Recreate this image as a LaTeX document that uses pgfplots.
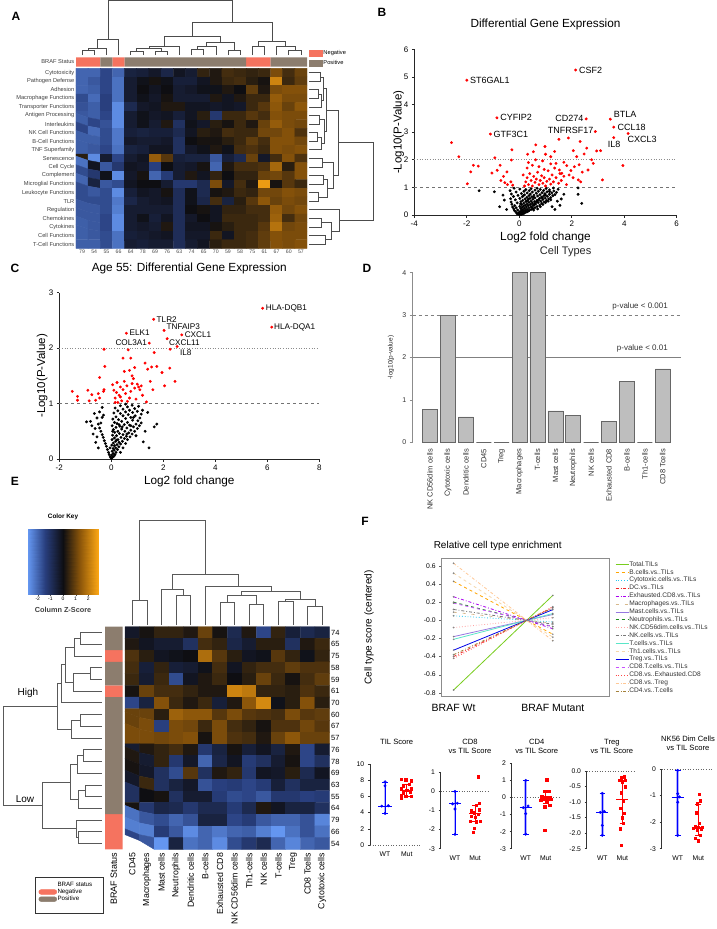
\documentclass[border=0pt]{standalone}
\usepackage{fontspec}
\setmainfont{Liberation Sans}
\usepackage{pgfplots}
\pgfplotsset{compat=1.18}
\definecolor{brafneg}{RGB}{245,115,95}
\definecolor{brafpos}{RGB}{140,125,110}
\definecolor{barg}{RGB}{190,190,190}
\definecolor{fca}{RGB}{120,205,30}
\definecolor{fcb}{RGB}{255,165,0}
\definecolor{fcc}{RGB}{40,200,240}
\definecolor{fcd}{RGB}{240,40,40}
\definecolor{fce}{RGB}{170,0,240}
\definecolor{fcf}{RGB}{215,185,140}
\definecolor{fcg}{RGB}{150,120,225}
\definecolor{fch}{RGB}{30,140,30}
\definecolor{fci}{RGB}{255,160,160}
\definecolor{fcj}{RGB}{120,120,120}
\definecolor{fck}{RGB}{90,230,200}
\definecolor{fcl}{RGB}{245,215,170}
\definecolor{fcm}{RGB}{0,0,230}
\definecolor{fcn}{RGB}{200,80,255}
\definecolor{fco}{RGB}{255,70,70}
\definecolor{fcp}{RGB}{255,200,150}
\definecolor{fcq}{RGB}{165,130,60}
\newcommand{\fs}[1]{\fontsize{#1}{#1}\selectfont}
\pgfplotsset{
  every axis/.append style={scale only axis, anchor=center, enlargelimits=false, /pgf/number format/assume math mode=true},
  heat/.style={colormap={bo}{rgb255=(100,150,240) rgb255=(40,62,125) rgb255=(14,14,18) rgb255=(140,86,10) rgb255=(250,165,20)}, point meta min=-2.77, point meta max=2.77},
  dend/.style={black!70, line width=0.6pt, forget plot},
  dendax/.style={hide axis, clip=false},
  gp/.style={axis lines=left, axis line style={-, black!85, line width=0.7pt}, x axis line style={-}, y axis line style={-}, tick align=outside, tick style={black!85, line width=0.6pt}, major tick length=2.5pt, clip=false},
  dp/.style={axis y line*=left, axis x line*=bottom, x axis line style={draw=none}, y axis line style={-, black!80, line width=0.7pt}, tick align=outside, ytick style={black!80, line width=0.6pt}, major tick length=2.2pt, xtick={1,2}, xticklabels={WT,Mut}, x tick style={draw=none}, ticklabel style={font=\fs{6.8}}, xticklabel style={yshift=-1pt}, title style={font=\fontsize{7.6}{8.7}\selectfont, align=center, anchor=center}, clip=false},
  vr/.style={only marks, mark=*, mark size=1.25pt, red},
  vk/.style={only marks, mark=*, mark size=1.25pt, black},
  fl/.style={line width=0.8pt, mark=o, mark size=0.7pt, mark options={solid, black!55, line width=0.3pt}},
}
\newcommand{\dU}[5]{\addplot[dend] coordinates {(#1,#2)(#1,#5)(#3,#5)(#3,#4)};}
\newcommand{\dR}[5]{\addplot[dend] coordinates {(#2,#1)(#5,#1)(#5,#3)(#4,#3)};}
\newcommand{\ebW}[3]{\addplot[blue!30, line width=2.6pt, forget plot] coordinates {(1,#1)(1,#2)};
 \addplot[blue, line width=0.6pt, forget plot] coordinates {(1,#1)(1,#2)};
 \addplot[blue, line width=0.8pt, forget plot] coordinates {(0.7,#3)(1.3,#3)};
 \addplot[blue, line width=0.6pt, forget plot] coordinates {(0.86,#1)(1.14,#1)};
 \addplot[blue, line width=0.6pt, forget plot] coordinates {(0.86,#2)(1.14,#2)};}
\newcommand{\ebM}[3]{\addplot[red, line width=0.6pt, forget plot] coordinates {(2,#1)(2,#2)};
 \addplot[red, line width=0.8pt, forget plot] coordinates {(1.7,#3)(2.3,#3)};
 \addplot[red, line width=0.6pt, forget plot] coordinates {(1.86,#1)(2.14,#1)};
 \addplot[red, line width=0.6pt, forget plot] coordinates {(1.86,#2)(2.14,#2)};}
\begin{document}
\begin{tikzpicture}
\useasboundingbox (0pt,0pt) rectangle (716pt,-929pt);
% panel letters
\node[font=\fs{12}\bfseries] at (16pt,-16pt) {A};
\node[font=\fs{12}\bfseries] at (382pt,-12pt) {B};
\node[font=\fs{12}\bfseries] at (15pt,-268pt) {C};
\node[font=\fs{12}\bfseries] at (367pt,-268pt) {D};
\node[font=\fs{12}\bfseries] at (15pt,-481pt) {E};
\node[font=\fs{12}\bfseries] at (365pt,-521pt) {F};

%%%%%%%%%%%%%%%% A: column dendrogram
\begin{axis}[at={(191.5pt,-27.5pt)}, width=231pt, height=55pt, dendax, xmin=-0.5, xmax=18.5, ymin=0, ymax=165]
\dU{0}{0}{1}{0}{14}
\dU{0.5}{14}{2}{0}{19}
\dU{1.25}{19}{3}{0}{47}
\dU{4}{0}{5}{0}{10}
\dU{6}{0}{7}{0}{10}
\dU{4.5}{10}{6.5}{10}{20}
\dU{5.5}{20}{8}{0}{27}
\dU{9}{0}{10}{0}{17}
\dU{9.5}{17}{11}{0}{25}
\dU{12}{0}{13}{0}{13}
\dU{10.25}{25}{12.5}{13}{37}
\dU{6.75}{27}{11.375}{37}{55}
\dU{14}{0}{15}{0}{25}
\dU{17}{0}{18}{0}{13}
\dU{16}{0}{17.5}{13}{27}
\dU{14.5}{25}{16.75}{27}{40}
\dU{9.0625}{55}{15.625}{40}{97}
\dU{2.125}{47}{12.34375}{97}{165}
\end{axis}

%%%%%%%%%%%%%%%% A: BRAF status bar
\begin{axis}[at={(191.5pt,-62pt)}, width=231pt, height=9.4pt, xmin=-0.5, xmax=18.5, ymin=0, ymax=1,
  axis line style={draw=none}, tick style={draw=none}, xtick=\empty, ytick={0.5}, yticklabels={BRAF Status},
  yticklabel style={font=\fs{5.7}, text=black!75, inner sep=1.5pt},
  legend style={at={(1.009,1.8)}, anchor=north west, draw=none, fill=none, inner sep=0pt, font=\fs{5.7}, row sep=2.2pt, nodes={inner sep=0.8pt}, cells={anchor=west}}]
\addplot[ybar, bar width=1, fill=brafneg, draw=none, forget plot] coordinates {(0,1)(1,1)(3,1)(14,1)(15,1)};
\addplot[ybar, bar width=1, fill=brafpos, draw=none, forget plot] coordinates {(2,1)(4,1)(5,1)(6,1)(7,1)(8,1)(9,1)(10,1)(11,1)(12,1)(13,1)(16,1)(17,1)(18,1)};
\addlegendimage{legend image code/.code={\fill[brafneg] (0pt,-3pt) rectangle (13pt,3pt);}}
\addlegendentry{Negative}
\addlegendimage{legend image code/.code={\fill[brafpos] (0pt,-3pt) rectangle (13pt,3pt);}}
\addlegendentry{Positive}
\end{axis}

%%%%%%%%%%%%%%%% A: heatmap
\begin{axis}[at={(191.5pt,-158.3pt)}, width=231pt, height=180pt, heat, xmin=-0.5, xmax=18.5, ymin=-0.5, ymax=20.5, y dir=reverse,
  axis line style={draw=none}, tick style={draw=none},
  xtick={0,...,18}, xticklabels={79,54,55,66,64,78,69,76,63,74,65,70,59,58,75,61,67,60,57},
  ytick={0,...,20}, yticklabels={Cytotoxicity,Pathogen Defense,Adhesion,Macrophage Functions,Transporter Functions,Antigen Processing,Interleukins,NK Cell Functions,B-Cell Functions,TNF Superfamily,Senescence,Cell Cycle,Complement,Microglial Functions,Leukocyte Functions,TLR,Regulation,Chemokines,Cytokines,Cell Functions,T-Cell Functions},
  xticklabel style={font=\fs{5.2}, text=black!70, inner sep=1.5pt},
  yticklabel style={font=\fs{5.7}, text=black!75, inner sep=1.5pt}]
\addplot[matrix plot*, mesh/cols=19, point meta=explicit] table[row sep=\\, header=false, x expr={mod(\coordindex,19)}, y expr={floor(\coordindex/19)}, meta index=0] {
-2.0\\ -2.0\\ -1.5\\ -2.0\\ -0.6\\ -0.5\\ -0.3\\ -0.7\\ -0.2\\ -0.4\\ 0.4\\ 0.2\\ 0.6\\ 0.5\\ 0.4\\ 0.5\\ 1.2\\ 0.6\\ 1.0\\
-2.0\\ -1.8\\ -1.5\\ -2.2\\ -0.4\\ -0.1\\ 0.1\\ -0.1\\ -0.5\\ -0.5\\ -0.2\\ 0.2\\ 0.5\\ 0.6\\ 0.3\\ 0.1\\ 2.2\\ 0.5\\ 0.9\\
-2.0\\ -1.9\\ -1.5\\ -2.2\\ -0.4\\ 0.0\\ -0.2\\ 0.0\\ -0.4\\ -0.3\\ -0.1\\ -0.1\\ 0.2\\ 0.0\\ 0.9\\ 0.2\\ 1.2\\ 1.3\\ 1.3\\
-1.6\\ -2.1\\ -1.4\\ -2.2\\ -0.4\\ -0.1\\ -0.3\\ 0.1\\ -0.4\\ -0.4\\ -0.4\\ 0.2\\ -0.2\\ 0.2\\ 0.5\\ 0.5\\ 1.5\\ 1.2\\ 1.2\\
-1.7\\ -1.9\\ -1.4\\ -2.6\\ -0.8\\ -0.3\\ -0.2\\ 0.2\\ 0.2\\ -0.2\\ -0.2\\ -0.3\\ -0.2\\ -0.3\\ 0.5\\ 0.8\\ 1.4\\ 1.0\\ 1.4\\
-1.8\\ -1.9\\ -1.5\\ -2.6\\ -0.4\\ -0.1\\ -0.3\\ -0.2\\ -0.5\\ -0.2\\ 0.3\\ -1.2\\ 0.5\\ 0.5\\ 0.8\\ 0.6\\ 1.3\\ 1.2\\ 1.2\\
-1.9\\ -1.5\\ -1.7\\ -2.6\\ -0.4\\ -0.1\\ -0.4\\ 0.2\\ -1.0\\ -0.1\\ -0.3\\ 0.3\\ 0.1\\ 0.5\\ 0.2\\ 1.0\\ 1.5\\ 1.2\\ 1.1\\
-1.5\\ -2.1\\ -1.6\\ -2.3\\ -0.5\\ -0.6\\ -0.5\\ -0.5\\ -0.8\\ -0.2\\ 0.3\\ 0.2\\ 0.6\\ 0.5\\ 0.5\\ 1.1\\ 1.1\\ 1.3\\ 0.7\\
-1.9\\ -1.9\\ -1.6\\ -2.3\\ -0.3\\ -0.4\\ -0.4\\ -0.3\\ -1.0\\ 0.0\\ 0.1\\ 0.1\\ 0.3\\ 0.5\\ 0.9\\ 0.6\\ 1.3\\ 1.3\\ 1.1\\
-1.9\\ -1.8\\ -1.5\\ -2.2\\ -0.6\\ -0.5\\ -0.2\\ -0.2\\ -1.0\\ -0.3\\ -0.1\\ 0.2\\ -0.1\\ 0.6\\ 0.7\\ 0.5\\ 1.3\\ 1.2\\ 1.3\\
0.3\\ -2.6\\ -0.4\\ -1.5\\ -0.4\\ -0.2\\ 1.5\\ 0.8\\ -0.5\\ -0.6\\ -0.6\\ -1.8\\ -0.5\\ -0.8\\ 1.0\\ -0.3\\ 0.6\\ 1.3\\ 0.7\\
-2.2\\ -0.2\\ -1.8\\ -1.2\\ -0.2\\ -0.3\\ -1.4\\ 0.0\\ -0.4\\ -0.3\\ 0.1\\ -2.0\\ 0.2\\ 0.6\\ 0.6\\ 0.7\\ 1.7\\ 0.3\\ 1.3\\
-1.6\\ -1.2\\ -0.1\\ -2.6\\ -0.3\\ 0.1\\ -2.0\\ -1.3\\ -0.4\\ 0.2\\ -0.2\\ 0.4\\ 0.0\\ 0.4\\ 0.4\\ 1.0\\ 1.1\\ 0.8\\ 1.3\\
-2.0\\ -0.6\\ -1.8\\ -1.6\\ -0.2\\ 0.0\\ 0.0\\ -0.4\\ -1.2\\ -1.2\\ -0.8\\ 1.2\\ -0.3\\ 0.6\\ 0.2\\ 2.6\\ 0.1\\ 0.8\\ 0.5\\
-1.6\\ -1.8\\ -1.6\\ -2.6\\ -0.5\\ -0.2\\ -0.3\\ 0.1\\ -0.9\\ -0.1\\ -0.8\\ 0.1\\ 0.2\\ 0.5\\ 0.4\\ 1.1\\ 1.1\\ 1.3\\ 1.2\\
-1.6\\ -1.6\\ -1.6\\ -2.3\\ -0.7\\ -0.4\\ -0.3\\ -0.2\\ -0.9\\ -0.1\\ -0.7\\ 0.6\\ -0.6\\ 0.3\\ 0.8\\ 1.4\\ 1.0\\ 1.2\\ 1.1\\
-1.8\\ -1.8\\ -1.6\\ -2.4\\ -0.4\\ -0.4\\ -0.4\\ -0.4\\ -0.9\\ 0.0\\ 0.1\\ -0.2\\ 0.4\\ 0.4\\ 0.6\\ 0.6\\ 1.5\\ 1.1\\ 1.3\\
-1.8\\ -1.8\\ -1.5\\ -2.6\\ -0.4\\ -0.1\\ -0.5\\ -0.2\\ -0.9\\ -0.3\\ 0.0\\ -0.2\\ 0.5\\ 0.5\\ 0.5\\ 0.6\\ 1.6\\ 0.6\\ 1.1\\
-1.9\\ -1.8\\ -1.5\\ -2.6\\ -0.4\\ -0.3\\ -0.4\\ 0.2\\ -0.9\\ -0.2\\ -0.2\\ 0.1\\ 0.3\\ 0.5\\ 0.5\\ 0.8\\ 1.9\\ 1.1\\ 1.2\\
-1.9\\ -1.8\\ -1.6\\ -2.2\\ -0.5\\ -0.4\\ -0.3\\ -0.2\\ -0.9\\ -0.3\\ -0.3\\ 0.5\\ -0.2\\ 0.5\\ 0.6\\ 0.9\\ 1.3\\ 1.2\\ 1.2\\
-1.9\\ -1.9\\ -1.6\\ -2.2\\ -0.4\\ -0.5\\ -0.4\\ -0.4\\ -0.9\\ -0.4\\ -0.2\\ 0.3\\ 0.5\\ 0.5\\ 0.6\\ 0.9\\ 1.3\\ 1.2\\ 1.3\\
};
\end{axis}

%%%%%%%%%%%%%%%% A: row dendrogram
\begin{axis}[at={(340.75pt,-158.3pt)}, width=64.5pt, height=180pt, dendax, xmin=0, xmax=65.5, ymin=-0.5, ymax=20.5, y dir=reverse]
\dR{0}{0}{1}{0}{12}
\dR{2}{0}{3}{0}{10}
\dR{2.5}{10}{4}{0}{13}
\dR{0.5}{12}{3.25}{13}{15}
\dR{5}{0}{6}{0}{11}
\dR{7}{0}{8}{0}{9}
\dR{7.5}{9}{9}{0}{13}
\dR{5.5}{11}{8.25}{13}{16}
\dR{1.875}{15}{6.875}{16}{18}
\dR{10}{0}{11}{0}{14}
\dR{12}{0}{13}{0}{15}
\dR{14}{0}{15}{0}{10}
\dR{12.5}{15}{14.5}{10}{19}
\dR{10.5}{14}{13.5}{19}{25}
\dR{4.375}{18}{12}{25}{30}
\dR{17}{0}{18}{0}{13}
\dR{19}{0}{20}{0}{17}
\dR{17.5}{13}{19.5}{17}{23}
\dR{16}{0}{18.5}{23}{31}
\dR{8.1875}{30}{17.25}{31}{65.5}
\end{axis}

%%%%%%%%%%%%%%%% B: volcano
\begin{axis}[at={(545.5pt,-132.15pt)}, width=262.4pt, height=165.7pt, gp, xmin=-4, xmax=6, ymin=0, ymax=6,
  xtick={-4,-2,0,2,4,6}, ytick={0,1,2,3,4,5,6}, ticklabel style={font=\fs{8}},
  title={Differential Gene Expression}, title style={font=\fs{11.8}, at={(0.5,1.112)}, anchor=center},
  xlabel={Log2 fold change}, xlabel style={font=\fs{11.8}, at={(0.5,-0.136)}, anchor=center},
  ylabel={-Log10(P-Value)}, ylabel style={font=\fs{11.5}, at={(-0.06,0.5)}, anchor=center}]
\addplot[black!45, dotted, line width=0.6pt] coordinates {(-4,2)(6,2)};
\addplot[black!55, dashed, line width=0.6pt] coordinates {(-4,1)(6,1)};
\addplot[vk] coordinates {(0.02,0.01)(0.08,0.02)(-0.04,0.03)(0.14,0.04)(0.05,0.06)(-0.09,0.05)(0.19,0.07)(0.11,0.09)(-0.02,0.08)(0.25,0.1)
(-0.13,0.11)(0.03,0.12)(0.17,0.13)(0.31,0.12)(0.09,0.15)(-0.18,0.16)(0.24,0.16)(0.38,0.17)(-0.06,0.18)(0.14,0.19)(0.45,0.2)
(0.3,0.21)(-0.21,0.22)(0.06,0.23)(0.2,0.24)(0.52,0.23)(0.37,0.26)(-0.12,0.26)(0.11,0.28)(0.6,0.27)(0.27,0.29)(0.45,0.3)(-0.25,0.29)
(0.02,0.31)(0.16,0.32)(0.68,0.31)(0.34,0.34)(0.53,0.35)(-0.17,0.34)(0.23,0.36)(0.78,0.36)(0.09,0.38)(0.42,0.38)(0.62,0.4)(-0.28,0.39)(0.3,0.4)
(0.86,0.42)(0.17,0.43)(0.5,0.43)(0.72,0.45)(-0.08,0.44)(0.37,0.46)(0.95,0.47)(0.06,0.48)(0.25,0.49)(0.59,0.48)(0.82,0.5)(-0.31,0.47)(0.45,0.5)
(1.04,0.52)(0.13,0.53)(0.33,0.54)(0.68,0.53)(0.9,0.56)(-0.15,0.55)(0.52,0.57)(1.12,0.58)(0.22,0.58)(0.77,0.6)(0.41,0.6)(-0.33,0.59)(0.02,0.6)(0.99,0.61)
(0.6,0.62)(1.2,0.63)(0.29,0.64)(0.85,0.65)(0.12,0.66)(0.48,0.66)(-0.22,0.67)(1.07,0.68)(0.7,0.69)(0.37,0.7)(1.28,0.7)(0.94,0.7)(-0.05,0.71)
(0.56,0.72)(0.2,0.73)(0.79,0.74)(1.15,0.75)(1.36,0.74)(0.42,0.76)(-0.3,0.76)(0.98,0.77)(0.08,0.78)(0.65,0.79)(1.24,0.8)(0.3,0.8)
(0.87,0.81)(1.42,0.82)(0.5,0.83)(-0.12,0.83)(1.06,0.84)(0.73,0.86)(0.18,0.86)(1.32,0.87)(0.38,0.88)(0.93,0.89)(-0.35,0.88)(0.6,0.9)
(1.15,0.91)(0.25,0.92)(1.48,0.93)(0.8,0.93)(0.02,0.94)(0.45,0.95)(1.02,0.96)(0.68,0.97)(1.3,0.98)(-0.2,0.97)
(0.35,0.15)(0.55,0.18)(0.48,0.28)(0.7,0.22)(0.58,0.38)(0.8,0.3)(0.66,0.48)(0.9,0.38)(0.75,0.55)(1.0,0.45)(0.88,0.62)(1.1,0.5)(1.0,0.72)(1.2,0.55)(1.15,0.85)(0.55,0.65)(0.35,0.58)(0.15,0.7)(0.05,0.4)(0.28,0.5)
(-1.53,0.88)(-0.95,0.84)(-0.57,0.54)(-0.75,0.3)(-0.62,0.72)(-0.48,0.2)(2.24,0.98)(2.24,0.75)(2.38,0.42)(1.36,0.2)(1.6,0.58)(1.55,0.35)(1.7,0.75)(1.25,0.3)(1.45,0.5)};
\addplot[vr] coordinates {(-2.58,2.62)(-2.30,2.11)(-1.75,1.80)(-1.56,1.77)(-1.85,1.56)(-1.98,1.13)(-0.93,2.07)(-1.04,1.52)(-0.73,1.80)(-0.84,1.62)(-0.47,1.56)(-0.30,1.99)(-0.28,2.36)(-0.55,1.17)(-0.45,1.10)(-0.70,1.25)(-0.32,1.20)(-0.25,1.08)(-0.60,1.40)(0.2,1.05)(0.25,1.2)(0.3,1.35)(0.35,1.1)(0.4,1.5)(0.45,1.25)(0.5,1.05)(0.55,1.4)(0.6,1.18)(0.65,1.3)(0.7,1.55)(0.75,1.1)(0.8,1.25)(0.85,1.42)(0.9,1.15)(0.95,1.35)(1.0,1.05)(1.05,1.22)(1.1,1.6)(1.15,1.3)(1.2,1.12)(1.25,1.45)(1.3,1.2)(1.35,1.7)(1.4,1.35)(1.5,1.15)(1.55,1.5)(1.6,1.25)(1.7,1.4)(1.8,1.1)(0.3,1.7)(0.5,1.8)(0.75,1.75)(0.95,1.65)(1.2,1.85)(0.15,1.45)(0.35,1.9)(0.62,2.0)(0.98,2.48)(1.51,2.74)(1.87,2.79)(2.32,2.66)(2.57,2.42)(2.95,2.32)(3.10,2.33)(2.06,2.33)(2.19,2.11)(2.47,2.21)(2.76,2.00)(2.82,1.87)(2.62,1.63)(3.17,1.27)(3.95,1.79)(0.63,2.54)(0.32,2.20)(0.54,2.29)(0.89,1.96)(1.20,2.11)(1.40,1.87)(1.70,1.91)(1.81,1.79)(1.53,1.63)(1.62,1.51)(1.97,1.61)(2.28,1.82)(2.34,1.20)(2.25,1.27)(1.9,1.45)(2.05,1.35)(2.4,1.55)(2.1,1.75)(1.35,2.3)(1.0,2.2)(-2.0,4.88)(2.15,5.25)(-0.85,3.52)(-1.1,2.93)(2.55,3.48)(2.9,3.02)(3.47,3.47)(3.6,3.18)(4.15,2.95)(3.6,2.8)};
\node[anchor=west, font=\fs{9}, inner sep=0.5pt] at (axis cs:-1.9,4.88) {ST6GAL1};
\node[anchor=west, font=\fs{9}, inner sep=0.5pt] at (axis cs:2.25,5.25) {CSF2};
\node[anchor=west, font=\fs{9}, inner sep=0.5pt] at (axis cs:-0.75,3.52) {CYFIP2};
\node[anchor=west, font=\fs{9}, inner sep=0.5pt] at (axis cs:-1.0,2.93) {GTF3C1};
\node[anchor=east, font=\fs{9}, inner sep=0.5pt] at (axis cs:2.47,3.48) {CD274};
\node[anchor=east, font=\fs{9}, inner sep=0.5pt] at (axis cs:2.85,3.06) {TNFRSF17};
\node[anchor=west, font=\fs{9}, inner sep=0.5pt] at (axis cs:3.58,3.66) {BTLA};
\node[anchor=west, font=\fs{9}, inner sep=0.5pt] at (axis cs:3.72,3.19) {CCL18};
\node[anchor=west, font=\fs{9}, inner sep=0.5pt] at (axis cs:4.1,2.72) {CXCL3};
\node[anchor=west, font=\fs{9}, inner sep=0.5pt] at (axis cs:3.35,2.56) {IL8};
\end{axis}

%%%%%%%%%%%%%%%% C: volcano
\begin{axis}[at={(189.3pt,-375.85pt)}, width=260pt, height=166.3pt, gp, xmin=-2, xmax=8, ymin=0, ymax=3,
  xtick={-2,0,2,4,6,8}, ytick={0,1,2,3}, ticklabel style={font=\fs{8}},
  title={Age 55: Differential Gene Expression}, title style={font=\fs{11.8}, at={(0.5,1.112)}, anchor=center},
  xlabel={Log2 fold change}, xlabel style={font=\fs{11.8}, at={(0.5,-0.135)}, anchor=center},
  ylabel={-Log10(P-Value)}, ylabel style={font=\fs{11.5}, at={(-0.066,0.5)}, anchor=center}]
\addplot[black!45, dotted, line width=0.6pt] coordinates {(-2,2)(8,2)};
\addplot[black!55, dashed, line width=0.6pt] coordinates {(-2,1)(8,1)};
\addplot[vk] coordinates {(0.0,0.01)(0.05,0.03)(-0.04,0.04)(0.1,0.05)(0.02,0.07)(-0.08,0.08)(0.14,0.08)(0.07,0.1)
(-0.11,0.12)(0.18,0.12)(0.03,0.14)(0.11,0.16)(-0.15,0.17)(0.24,0.17)(0.07,0.19)(0.17,0.2)(-0.05,0.2)
(0.29,0.22)(-0.19,0.23)(0.12,0.24)(0.02,0.25)(0.22,0.26)(0.36,0.27)(-0.23,0.28)(0.08,0.29)(0.3,0.3)
(0.17,0.32)(0.43,0.32)(-0.27,0.33)(0.03,0.35)(0.26,0.35)(0.5,0.37)(0.12,0.38)(0.37,0.39)(-0.31,0.39)(1.23,0.31)
(0.58,0.41)(0.2,0.42)(0.05,0.43)(0.45,0.44)(-0.35,0.44)(0.31,0.46)(0.67,0.47)(0.13,0.48)(0.52,0.5)(-0.4,0.5)(0.25,0.5)
(0.75,0.52)(0.08,0.53)(0.4,0.54)(0.6,0.56)(-0.45,0.56)(0.18,0.57)(0.85,0.58)(0.33,0.59)(0.03,0.6)(-0.62,0.55)
(0.7,0.61)(0.5,0.62)(0.95,0.63)(0.22,0.64)(-0.5,0.63)(0.12,0.66)(0.62,0.66)(0.4,0.68)(1.02,0.69)(-0.8,0.68)(0.82,0.7)
(0.28,0.71)(0.06,0.72)(0.55,0.73)(1.1,0.74)(0.75,0.75)(-0.55,0.74)(0.18,0.76)(0.45,0.78)(0.92,0.78)(0.65,0.8)(-0.3,0.79)
(1.15,0.81)(0.35,0.82)(0.1,0.83)(0.82,0.84)(0.55,0.85)(1.0,0.86)(-0.45,0.85)(0.25,0.87)(0.7,0.88)(1.2,0.88)
(0.45,0.9)(0.9,0.91)(0.15,0.92)(0.62,0.94)(-0.35,0.93)(1.05,0.95)(0.35,0.96)(0.8,0.97)(0.55,0.99)
(0.35,0.12)(0.45,0.2)(0.55,0.28)(0.62,0.35)(0.72,0.4)(0.8,0.45)(0.9,0.5)(1.0,0.55)(1.08,0.6)(0.95,0.42)(1.15,0.65)(0.3,0.62)(0.6,0.45)(0.42,0.58)(0.75,0.6)(0.85,0.75)(0.2,0.34)(0.05,0.5)
(-0.7,0.45)(-0.75,0.6)(-0.95,0.67)(-0.6,0.3)(-0.5,0.2)(-0.65,0.82)(-0.4,0.65)(-0.35,0.75)(-0.55,0.4)
(1.75,0.63)(1.65,0.58)(1.4,0.84)(1.3,0.5)(1.45,0.2)};
\addplot[vr] coordinates {(-1.5,1.22)(-1.3,1.13)(-1.3,1.06)(-0.9,1.24)(-0.85,1.05)(-0.75,1.16)(-0.6,1.06)(-0.5,1.18)(-0.45,1.1)(-0.45,1.47)(-0.3,1.22)(-0.28,1.25)(-0.25,1.67)(-0.28,1.98)(0.05,1.34)(0.1,1.24)(0.15,1.1)(0.2,1.2)(0.22,1.38)(0.25,1.02)(0.3,1.15)(0.35,1.3)(0.4,1.05)(0.45,1.25)(0.5,1.4)(0.55,1.18)(0.6,1.32)(0.62,1.04)(0.7,1.1)(0.75,1.22)(0.8,1.36)(0.85,1.45)(0.9,1.28)(0.95,1.08)(1.0,1.35)(1.05,1.3)(1.1,1.25)(1.15,1.32)(1.2,1.15)(0.8,1.5)(0.9,1.65)(0.5,1.58)(0.7,1.6)(1.3,1.73)(1.4,1.62)(1.55,1.66)(1.75,1.67)(1.95,1.56)(2.05,1.32)(2.25,1.64)(2.45,1.4)(1.5,1.4)(1.6,1.25)(1.35,1.03)(0.65,1.97)(0.75,1.82)(0.45,1.82)(1.65,1.92)(2.26,1.98)(0.15,1.02)(0.35,1.12)(5.82,2.72)(6.17,2.38)(1.63,2.52)(2.03,2.32)(0.58,2.27)(2.71,2.24)(1.46,2.09)(2.15,2.17)(2.53,2.03)};
\node[anchor=west, font=\fs{8.2}, inner sep=0.5pt] at (axis cs:5.92,2.72) {HLA-DQB1};
\node[anchor=west, font=\fs{8.2}, inner sep=0.5pt] at (axis cs:6.24,2.38) {HLA-DQA1};
\node[anchor=west, font=\fs{8.2}, inner sep=0.5pt] at (axis cs:1.72,2.52) {TLR2};
\node[anchor=west, font=\fs{8.2}, inner sep=0.5pt] at (axis cs:2.1,2.38) {TNFAIP3};
\node[anchor=west, font=\fs{8.2}, inner sep=0.5pt] at (axis cs:0.68,2.27) {ELK1};
\node[anchor=west, font=\fs{8.2}, inner sep=0.5pt] at (axis cs:2.8,2.24) {CXCL1};
\node[anchor=east, font=\fs{8.2}, inner sep=0.5pt] at (axis cs:1.4,2.09) {COL3A1};
\node[anchor=west, font=\fs{8.2}, inner sep=0.5pt] at (axis cs:2.2,2.09) {CXCL11};
\node[anchor=west, font=\fs{8.2}, inner sep=0.5pt] at (axis cs:2.62,1.92) {IL8};
\end{axis}

%%%%%%%%%%%%%%%% D: bars
\begin{axis}[at={(546.85pt,-357.5pt)}, width=268.3pt, height=169.6pt, xmin=-0.97, xmax=14.02, ymin=0, ymax=4, clip=false,
  axis x line*=bottom, axis y line*=left, x axis line style={draw=none}, y axis line style={-, black!45, line width=0.8pt},
  tick align=outside, ytick={0,1,2,3,4}, ytick style={black!45, line width=0.6pt}, major tick length=3pt,
  xtick={0,...,13}, x tick style={draw=none},
  xticklabels={NK CD56dim cells,Cytotoxic cells,Dendritic cells,CD45,Treg,Macrophages,T-cells,Mast cells,Neutrophils,NK cells,Exhausted CD8,B-cells,Th1-cells,CD8 Tcells},
  xticklabel style={rotate=90, anchor=east, font=\fs{7.5}, text=black!80},
  yticklabel style={font=\fs{7}, text=black!80},
  title={Cell Types}, title style={font=\fs{11}, text=black!85, at={(0.570,1.087)}, anchor=center},
  ylabel={-log10(p-value)}, ylabel style={font=\fs{6.5}, text=black!85, at={(-0.081,0.5)}, anchor=center}]
\addplot[black!50, line width=0.6pt] coordinates {(-0.97,2)(14.02,2)};
\addplot[black!50, dashed, line width=0.6pt] coordinates {(-0.97,3)(14.02,3)};
\addplot[ybar, bar width=15pt, fill=barg, draw=black!60, line width=0.7pt] coordinates {(0,0.78)(1,3.0)(2,0.6)(3,0)(4,0)(5,4.0)(6,4.0)(7,0.74)(8,0.64)(9,0)(10,0.5)(11,1.43)(12,0)(13,1.73)};
\node[anchor=south east, font=\fs{8}, text=black!80, inner sep=1pt] at (axis cs:13.35,3.08) {p-value < 0.001};
\node[anchor=south east, font=\fs{8}, text=black!80, inner sep=1pt] at (axis cs:13.35,2.1) {p-value < 0.01};
\end{axis}

%%%%%%%%%%%%%%%% E: color key
\begin{axis}[at={(63pt,-561.5pt)}, width=70pt, height=65pt, heat, xmin=-2.77, xmax=2.77, ymin=0, ymax=1,
  axis line style={black!60, line width=0.4pt}, ytick=\empty, xtick={-2,-1,0,1,2}, xtick pos=bottom, tick align=outside,
  major tick length=2pt, xtick style={black!70},
  xticklabel style={font=\fs{5}, inner sep=1pt},
  xlabel={Column Z-Score}, xlabel style={font=\fs{7.3}\bfseries, text=black!75, at={(0.5,-0.24)}, anchor=center},
  title={Color Key}, title style={font=\fs{6.4}\bfseries, at={(0.5,1.09)}, anchor=center}]
\addplot[surf, shader=interp, mesh/cols=5, point meta=x] coordinates {(-2.77,0)(-1.385,0)(0,0)(1.385,0)(2.77,0)(-2.77,1)(-1.385,1)(0,1)(1.385,1)(2.77,1)};
\end{axis}

%%%%%%%%%%%%%%%% E: row dendrogram
\begin{axis}[at={(52.5pt,-738pt)}, width=98.4pt, height=222.6pt, dendax, xmin=0, xmax=295, x dir=reverse, ymin=-0.5, ymax=18.5, y dir=reverse, dend/.append style={black!65, line width=0.75pt}]
\dR{0}{0}{1}{0}{65}
\dR{0.5}{65}{2}{0}{83}
\dR{3}{0}{4}{0}{35}
\dR{3.5}{35}{5}{0}{85}
\dR{1.25}{83}{4.25}{85}{110}
\dR{2.75}{110}{6}{0}{120}
\dR{7}{0}{8}{0}{65}
\dR{7.5}{65}{9}{0}{90}
\dR{4.375}{120}{8.25}{90}{133}
\dR{10}{0}{11}{0}{55}
\dR{10.5}{55}{12}{0}{72}
\dR{13}{0}{14}{0}{50}
\dR{13.5}{50}{15}{0}{70}
\dR{11.25}{72}{14.25}{70}{95}
\dR{17}{0}{18}{0}{70}
\dR{16}{0}{17.5}{70}{75}
\dR{12.75}{95}{16.75}{75}{177}
\dR{6.3125}{133}{14.75}{177}{295}
\node[font=\fs{10}] at (axis cs:221,5.13) {High};
\node[font=\fs{10}] at (axis cs:230,14.2) {Low};
\end{axis}

%%%%%%%%%%%%%%%% E: BRAF column
\begin{axis}[at={(113.85pt,-738pt)}, width=17.7pt, height=222.6pt, xmin=0, xmax=1, ymin=-0.5, ymax=18.5, y dir=reverse,
  axis line style={draw=none}, tick style={draw=none}, ytick=\empty, xtick={0.5}, xticklabels={BRAF Status},
  xticklabel style={rotate=90, anchor=east, font=\fs{9}}]
\addplot[xbar, bar width=1, fill=brafneg, draw=none] coordinates {(1,2)(1,5)(1,16)(1,17)(1,18)};
\addplot[xbar, bar width=1, fill=brafpos, draw=none] coordinates {(1,0)(1,1)(1,3)(1,4)(1,6)(1,7)(1,8)(1,9)(1,10)(1,11)(1,12)(1,13)(1,14)(1,15)};
\end{axis}

%%%%%%%%%%%%%%%% E: heatmap (with column dendrogram above it)
\begin{axis}[at={(227.25pt,-738pt)}, width=204.5pt, height=222.6pt, heat, xmin=-0.5, xmax=13.5, ymin=-0.5, ymax=18.5, y dir=reverse, clip=false,
  axis line style={draw=none}, tick style={draw=none},
  xtick={0,...,13}, xticklabels={CD45,Macrophages,Mast cells,Neutrophils,Dendritic cells,B-cells,Exhausted CD8,NK CD56dim cells,Th1-cells,NK cells,T-cells,Treg,CD8 Tcells,Cytotoxic cells},
  xticklabel style={rotate=90, anchor=east, font=\fs{8.8}},
  ytick={0,...,18}, yticklabels={74,65,75,58,59,61,70,60,67,57,76,78,69,63,55,64,79,66,54},
  yticklabel pos=right, yticklabel style={font=\fs{7.5}, inner sep=1.5pt},
  dend/.append style={black!65, line width=0.75pt}]
\addplot[matrix plot*, mesh/cols=14, point meta=explicit] table[row sep=\\, header=false, x expr={mod(\coordindex,14)}, y expr={floor(\coordindex/14)}, meta index=0] {
-0.3\\ 0.1\\ 0.4\\ 0.4\\ 0.2\\ 1.0\\ 0.1\\ -0.8\\ 0.2\\ -1.5\\ 0.4\\ -0.5\\ -0.8\\ -0.6\\
0.2\\ -0.2\\ -0.4\\ -0.4\\ -1.0\\ 0.6\\ 0.4\\ -0.7\\ -0.4\\ 0.3\\ 0.3\\ -1.0\\ 0.2\\ 0.5\\
0.7\\ 0.3\\ -0.2\\ -0.1\\ 0.0\\ 1.8\\ 0.8\\ 0.3\\ -0.2\\ -0.1\\ 0.8\\ 0.4\\ -0.1\\ 0.4\\
0.6\\ -0.5\\ 0.4\\ -0.5\\ -0.4\\ -0.1\\ 0.6\\ -0.2\\ 0.4\\ 0.6\\ 0.6\\ 0.9\\ 0.7\\ 0.7\\
0.5\\ -0.4\\ 0.5\\ -1.6\\ -0.2\\ 0.2\\ 0.5\\ 0.0\\ 0.3\\ 1.0\\ 0.5\\ 0.1\\ 0.6\\ 0.9\\
0.1\\ 1.0\\ 0.6\\ 0.6\\ 0.4\\ 0.2\\ 0.2\\ 2.2\\ 2.0\\ 0.4\\ 0.4\\ 0.3\\ 0.7\\ 0.5\\
-1.5\\ -0.6\\ 1.3\\ 0.5\\ 0.2\\ 0.5\\ -0.5\\ 0.2\\ 1.4\\ 2.3\\ -0.1\\ 0.3\\ 1.3\\ 0.3\\
1.0\\ 1.0\\ 0.3\\ 1.6\\ 1.4\\ 1.4\\ 0.8\\ 1.2\\ 0.8\\ 0.7\\ 0.6\\ 1.2\\ 0.8\\ 0.9\\
1.0\\ 1.2\\ -1.4\\ 1.2\\ 1.1\\ 0.5\\ 1.2\\ 0.6\\ 0.4\\ 0.1\\ 0.7\\ 0.7\\ 1.1\\ 0.8\\
1.2\\ 1.2\\ 1.1\\ 1.2\\ 1.3\\ 0.1\\ 1.2\\ 0.7\\ 0.6\\ 0.2\\ 1.0\\ 1.4\\ 1.0\\ 1.0\\
-0.4\\ 0.2\\ 0.4\\ 0.6\\ 0.2\\ -1.2\\ -0.6\\ 0.1\\ -0.5\\ -0.2\\ -0.6\\ 0.2\\ -1.5\\ -0.4\\
0.2\\ -0.4\\ 0.4\\ -1.2\\ -0.3\\ -2.0\\ -0.7\\ -0.2\\ -1.3\\ -1.0\\ -0.4\\ 0.1\\ -1.5\\ -1.0\\
0.1\\ -0.3\\ -1.0\\ -1.6\\ 0.8\\ -1.0\\ 0.2\\ 0.4\\ -1.2\\ -0.2\\ -0.3\\ 0.3\\ -0.8\\ -0.2\\
-0.3\\ 0.5\\ -1.0\\ -0.6\\ -0.3\\ -1.7\\ -1.4\\ -1.3\\ -1.5\\ -1.3\\ -0.5\\ -1.0\\ -0.6\\ -0.6\\
-1.0\\ 0.0\\ 0.1\\ -1.0\\ -0.4\\ -0.4\\ -1.3\\ -1.6\\ -1.5\\ -1.8\\ -1.2\\ -1.2\\ -1.4\\ -1.3\\
0.1\\ -1.2\\ -0.7\\ -0.8\\ -1.2\\ -0.8\\ -0.8\\ -1.3\\ -0.8\\ 0.2\\ -0.2\\ -0.6\\ -0.6\\ -1.0\\
-2.2\\ -1.8\\ -1.6\\ -2.0\\ -1.7\\ -0.6\\ -0.6\\ -1.5\\ -1.3\\ -1.8\\ -2.0\\ -2.0\\ -1.7\\ -2.5\\
-2.4\\ -2.4\\ -1.3\\ -1.8\\ -2.6\\ -2.0\\ -2.3\\ -2.0\\ -1.9\\ -2.4\\ -2.8\\ -2.2\\ -1.7\\ -2.2\\
-1.5\\ -1.8\\ -2.8\\ -0.6\\ -2.2\\ -2.0\\ -2.6\\ -1.6\\ -1.2\\ -0.8\\ -2.0\\ -2.5\\ -2.0\\ -1.8\\
};
% column dendrogram, heights in row units above the heatmap
\dU{0}{-0.645}{1}{-0.645}{-2.779}
\dU{3}{-0.645}{4}{-0.645}{-3.206}
\dU{2}{-0.645}{3.5}{-3.206}{-3.718}
\dU{6}{-0.645}{7}{-0.645}{-2.608}
\dU{8}{-0.645}{9}{-0.645}{-2.437}
\dU{6.5}{-2.608}{8.5}{-2.437}{-3.206}
\dU{10}{-0.645}{11}{-0.645}{-2.634}
\dU{12}{-0.645}{13}{-0.645}{-2.207}
\dU{10.5}{-2.634}{12.5}{-2.207}{-2.864}
\dU{7.5}{-3.206}{11.5}{-2.864}{-3.547}
\dU{5}{-0.645}{9.5}{-3.547}{-3.974}
\dU{2.75}{-3.718}{7.25}{-3.974}{-4.998}
\dU{0.5}{-2.779}{5}{-4.998}{-9.607}
\end{axis}

%%%%%%%%%%%%%%%% E: legend box
\begin{axis}[at={(69pt,-895.5pt)}, width=68pt, height=35.6pt, xmin=0, xmax=1, ymin=0, ymax=1,
  axis line style={black!80, line width=0.6pt}, xtick=\empty, ytick=\empty,
  legend style={at={(0.05,0.9)}, anchor=north west, draw=none, fill=none, font=\fs{6.2}, inner sep=0pt, row sep=0.6pt, nodes={inner sep=0.5pt, text height=4.4pt, text depth=1.2pt}, cells={anchor=west}}]
\addplot[draw=none, forget plot] coordinates {(0.5,0.5)};
\addlegendimage{empty legend}
\addlegendentry{BRAF status}
\addlegendimage{legend image code/.code={\fill[brafneg, rounded corners=2.4pt] (0pt,-2.4pt) rectangle (18pt,2.4pt);}}
\addlegendentry{Negative}
\addlegendimage{legend image code/.code={\fill[brafpos, rounded corners=2.4pt] (0pt,-2.4pt) rectangle (18pt,2.4pt);}}
\addlegendentry{Positive}
\end{axis}

%%%%%%%%%%%%%%%% F: lines
\begin{axis}[at={(525.5pt,-627.5pt)}, width=167.6pt, height=138.4pt, xmin=0.88, xmax=2.57, ymin=-0.844, ymax=0.685,
  axis line style={black!45, line width=0.6pt}, xtick={1,2}, xticklabels={BRAF Wt,BRAF Mutant}, x tick style={draw=none},
  xticklabel style={font=\fs{10.5}, yshift=-1.5pt},
  ytick={-0.8,-0.6,-0.4,-0.2,0,0.2,0.4,0.6}, yticklabels={-0.8,-0.6,-0.4,-0.2,-0.0,0.2,0.4,0.6}, ytick pos=left,
  tick align=outside, ytick style={black!60}, major tick length=2.5pt, yticklabel style={font=\fs{6.8}},
  title={Relative cell type enrichment}, title style={font=\fs{10}, at={(0.334,1.048)}, anchor=center},
  ylabel={Cell type score (centered)}, ylabel style={font=\fs{10}, at={(-0.434,0.5)}, anchor=center},
  legend style={at={(1.034,0.98)}, anchor=north west, draw=none, fill=none, font=\fs{6.6}, text=black!80, inner sep=0pt, row sep=1.4pt, nodes={inner sep=0.3pt, text height=4.6pt, text depth=1.3pt}, cells={anchor=west}},
  legend image code/.code={\draw[#1] (0pt,0pt) -- (13pt,0pt);}]
\addplot[fl, fca, solid] coordinates {(1,-0.77)(2,0.275)}; \addlegendentry{Total.TILs}
\addplot[fl, fcb, dashed] coordinates {(1,0.43)(2,-0.154)}; \addlegendentry{B.cells.vs..TILs}
\addplot[fl, fcc, dotted] coordinates {(1,0.05)(2,-0.018)}; \addlegendentry{Cytotoxic.cells.vs..TILs}
\addplot[fl, fcd, dash dot] coordinates {(1,-0.40)(2,0.143)}; \addlegendentry{DC.vs..TILs}
\addplot[fl, fce, dash dot] coordinates {(1,0.26)(2,-0.093)}; \addlegendentry{Exhausted.CD8.vs..TILs}
\addplot[fl, fcf, loosely dashed] coordinates {(1,0.09)(2,-0.032)}; \addlegendentry{Macrophages.vs..TILs}
\addplot[fl, fcg, solid] coordinates {(1,-0.18)(2,0.064)}; \addlegendentry{Mast.cells.vs..TILs}
\addplot[fl, fch, dashed] coordinates {(1,0.20)(2,-0.071)}; \addlegendentry{Neutrophils.vs..TILs}
\addplot[fl, fci, dotted] coordinates {(1,-0.08)(2,0.029)}; \addlegendentry{NK.CD56dim.cells.vs..TILs}
\addplot[fl, fcj, dash dot] coordinates {(1,0.12)(2,-0.043)}; \addlegendentry{NK.cells.vs..TILs}
\addplot[fl, fck, solid] coordinates {(1,-0.21)(2,0.075)}; \addlegendentry{T.cells.vs..TILs}
\addplot[fl, fcl, dashed] coordinates {(1,0.52)(2,-0.186)}; \addlegendentry{Th1.cells.vs..TILs}
\addplot[fl, fcm, solid] coordinates {(1,-0.33)(2,0.118)}; \addlegendentry{Treg.vs..TILs}
\addplot[fl, fcn, dashed] coordinates {(1,0.19)(2,-0.068)}; \addlegendentry{CD8.T.cells.vs..TILs}
\addplot[fl, fco, dotted] coordinates {(1,-0.42)(2,0.15)}; \addlegendentry{CD8.vs..Exhausted.CD8}
\addplot[fl, fcp, dash dot] coordinates {(1,0.63)(2,-0.225)}; \addlegendentry{CD8.vs..Treg}
\addplot[fl, fcq, dash dot] coordinates {(1,-0.38)(2,0.136)}; \addlegendentry{CD4.vs..T.cells}
\end{axis}

%%%%%%%%%%%%%%%% F: small dot plots
\begin{axis}[at={(395pt,-804.5pt)}, width=50pt, height=81pt, dp, xmin=0.31, xmax=2.61, ymin=0, ymax=10, ytick={0,2,4,6,8,10},
  title={TIL Score}, title style={at={(0.534,1.194)}}]
\addplot[black!60, dotted, line width=0.6pt] coordinates {(0.31,0)(2.61,0)};
\ebW{3.9}{7.8}{4.8}
\ebM{6.05}{7.55}{6.75}
\addplot[only marks, mark=*, mark size=1.3pt, blue] coordinates {(1,7.8)(1,7.3)(0.85,4.8)(1.15,4.85)(1,3.9)};
\addplot[only marks, mark=square*, mark size=1.2pt, red] coordinates {(1.75,8.1)(1.95,8.05)(2.2,7.95)(2.1,7.5)(1.85,7.3)(1.75,7.0)(2.2,6.95)(2.0,6.8)(1.85,6.45)(2.15,6.5)(1.75,6.1)(2.2,6.0)(1.95,6.0)(1.75,5.8)};
\end{axis}

\begin{axis}[at={(464.5pt,-810.5pt)}, width=47.6pt, height=76.4pt, dp, xmin=0.285, xmax=2.665, ymin=-3, ymax=1, ytick={-3,-2,-1,0,1},
  title={CD8\\vs TIL Score}, title style={at={(0.615,1.262)}}]
\addplot[black!60, dotted, line width=0.6pt] coordinates {(0.285,0)(2.665,0)};
\ebW{-2.25}{0}{-0.65}
\ebM{-1.55}{-0.75}{-1.17}
\addplot[only marks, mark=*, mark size=1.3pt, blue] coordinates {(1,0.0)(0.88,-0.65)(1.12,-0.62)(1,-0.92)(1,-2.25)};
\addplot[only marks, mark=square*, mark size=1.2pt, red] coordinates {(2.15,0.78)(2.2,-0.62)(2.05,-0.72)(2.2,-0.95)(1.8,-1.0)(1.95,-1.12)(2.15,-1.2)(1.8,-1.3)(2.0,-1.35)(2.25,-1.55)(1.75,-1.55)(2.05,-1.58)(1.95,-1.93)(1.9,-2.15)};
\end{axis}

\begin{axis}[at={(535.5pt,-806pt)}, width=47.6pt, height=85.4pt, dp, xmin=0.3, xmax=2.68, ymin=-3, ymax=2, ytick={-3,-2,-1,0,1,2},
  title={CD4\\vs TIL Score}, title style={at={(0.525,1.129)}}]
\addplot[black!60, dotted, line width=0.6pt] coordinates {(0.3,0)(2.68,0)};
\ebW{-2.15}{1.0}{-0.6}
\ebM{-0.35}{0.3}{-0.05}
\addplot[only marks, mark=*, mark size=1.3pt, blue] coordinates {(1,1.0)(1.12,-0.5)(0.88,-0.6)(1,-0.95)(1,-2.15)};
\addplot[only marks, mark=square*, mark size=1.2pt, red] coordinates {(2.05,1.05)(1.95,0.38)(2.15,0.38)(1.8,0.05)(2.0,0.0)(2.2,0.02)(1.9,-0.08)(2.1,-0.1)(2.25,-0.1)(1.75,-0.15)(2.05,-0.28)(2.2,-0.45)(1.95,-0.55)(1.95,-1.9)};
\end{axis}

\begin{axis}[at={(611.35pt,-809.85pt)}, width=49.3pt, height=77.7pt, dp, xmin=0.22, xmax=2.685, ymin=-2.5, ymax=0,
  ytick={-2.5,-2,-1.5,-1,-0.5,0}, yticklabels={-2.5,-2.0,-1.5,-1.0,-0.5,0.0},
  title={Treg\\vs TIL Score}, title style={at={(0.51,1.241)}}]
\addplot[black!60, dotted, line width=0.6pt] coordinates {(0.22,0)(2.685,0)};
\ebW{-2.07}{-0.72}{-1.33}
\ebM{-1.68}{-0.3}{-0.9}
\addplot[only marks, mark=*, mark size=1.3pt, blue] coordinates {(1,-0.72)(1.1,-1.3)(0.9,-1.33)(1,-1.75)(1,-2.07)};
\addplot[only marks, mark=square*, mark size=1.2pt, red] coordinates {(2.1,-0.18)(1.95,-0.22)(2.15,-0.3)(1.85,-0.3)(2.0,-0.36)(2.15,-0.5)(1.95,-0.7)(2.05,-0.95)(1.9,-1.2)(2.1,-1.35)(2.0,-1.5)(2.05,-1.68)(1.9,-1.85)(1.95,-2.38)};
\end{axis}

\begin{axis}[at={(687.2pt,-808.85pt)}, width=51pt, height=79.7pt, dp, xmin=0.223, xmax=2.7, ymin=-3, ymax=0, ytick={-3,-2,-1,0},
  title={NK56 Dim Cells\\vs TIL Score}, title style={at={(0.516,1.245)}}]
\addplot[black!60, dotted, line width=0.6pt] coordinates {(0.223,0)(2.7,0)};
\ebW{-2.5}{-0.05}{-1.05}
\ebM{-2.5}{-1.32}{-2.22}
\addplot[only marks, mark=*, mark size=1.3pt, blue] coordinates {(1,-0.05)(1,-0.93)(1.08,-1.05)(1,-1.25)(1,-2.5)};
\addplot[only marks, mark=square*, mark size=1.2pt, red] coordinates {(2.05,-0.95)(2.1,-1.2)(1.95,-1.3)(1.9,-1.65)(2.05,-2.05)(1.85,-2.15)(2.0,-2.2)(2.2,-2.2)(1.75,-2.22)(2.15,-2.25)(1.95,-2.3)(2.1,-2.5)(1.85,-2.6)(2.0,-2.7)};
\end{axis}
\end{tikzpicture}
\end{document}
